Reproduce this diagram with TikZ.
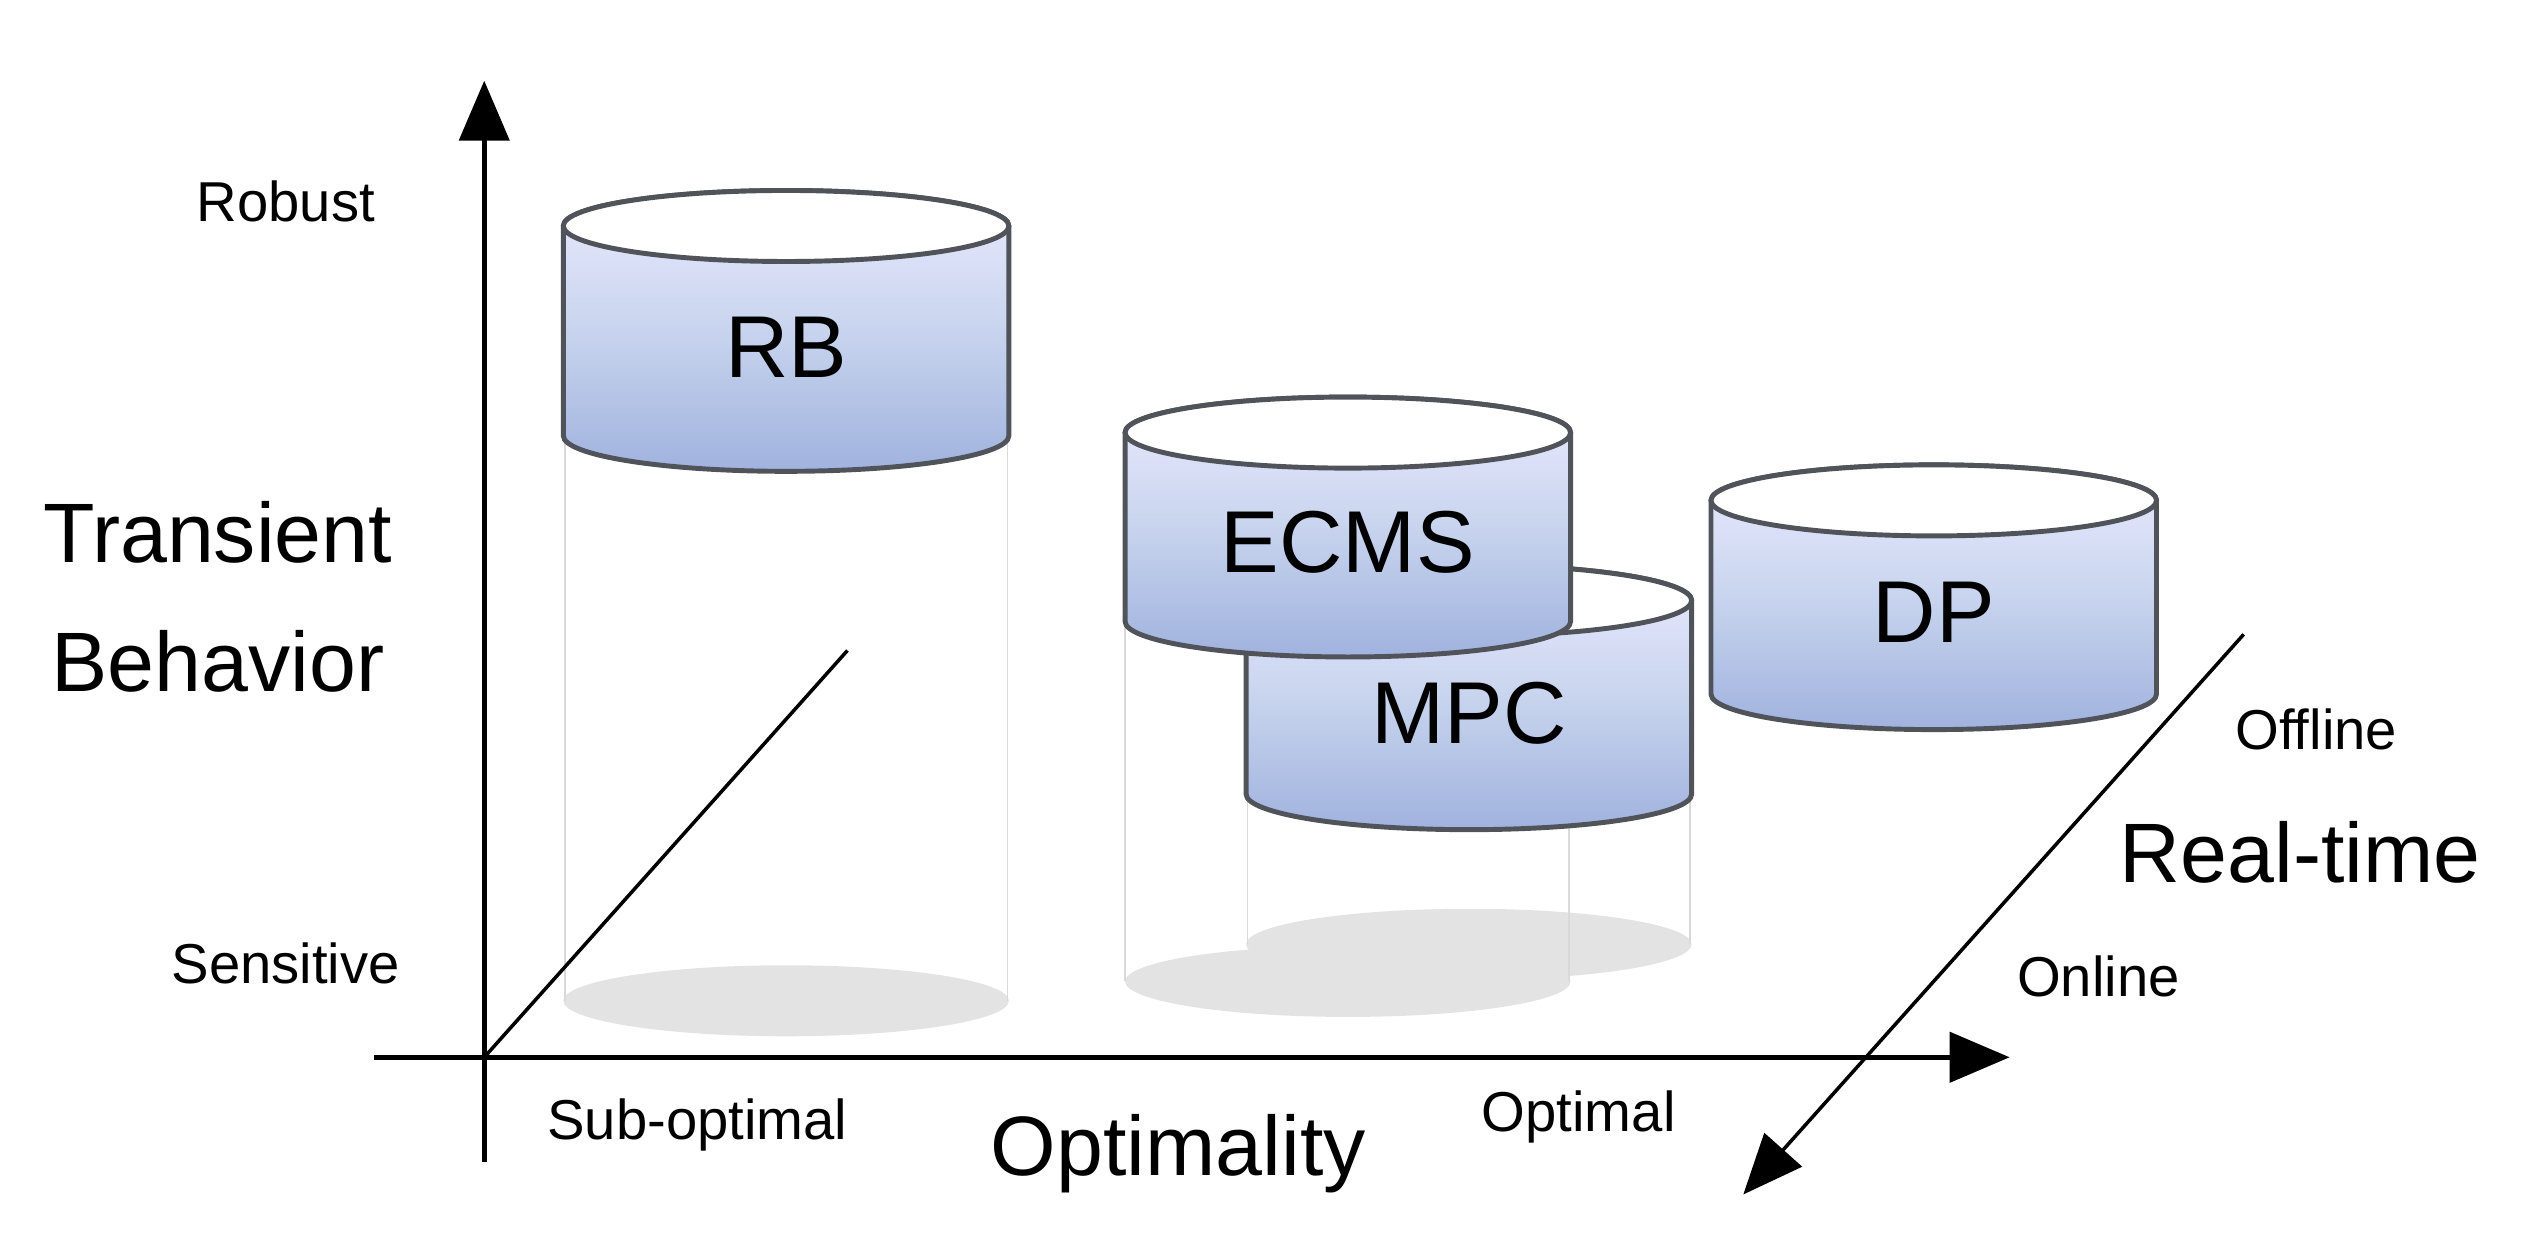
\documentclass[tikz,border=0pt]{standalone}
\usepackage{fontspec}
\setmainfont{Liberation Sans}
\usetikzlibrary{arrows.meta}
\begin{document}
\begin{tikzpicture}[x=0.01614cm,y=0.01614cm,
  axis/.style={line width=1.3pt,black},
  arr/.style={-{Triangle[length=0.6cm,width=0.5cm]}},
  cylbody/.style={top color=blue!8!white,bottom color={rgb,255:red,160;green,178;blue,222},middle color={rgb,255:red,200;green,212;blue,238},draw={rgb,255:red,80;green,84;blue,90},line width=1.4pt},
  cyltop/.style={fill=white,draw={rgb,255:red,80;green,84;blue,90},line width=1.4pt},
  ghost/.style={draw=black!15,line width=0.4pt},
  shadow/.style={fill=black!11},
  small/.style={font=\fontsize{16}{18}\selectfont},
  big/.style={font=\fontsize{24}{28}\selectfont},
  clab/.style={font=\fontsize{25}{28}\selectfont}]
\useasboundingbox (0,0) rectangle (1568,766);
\newcommand\mycyl[5]{%
  \shade[cylbody] ({#1-138},#2) -- ({#1-138},#3) arc[start angle=180,end angle=360,x radius=138,y radius=22] -- ({#1+138},#2) arc[start angle=0,end angle=180,x radius=138,y radius=22] -- cycle;
  \draw[cyltop] (#1,#2) ellipse[x radius=138,y radius=22];
  \node[clab] (#4) at (#1,{#3+(#2-#3)*0.42}) {#5};}
% shadows and ghost lines
\fill[shadow] (487,146) ellipse[x radius=138,y radius=22];
\fill[shadow] (910,181) ellipse[x radius=138,y radius=22];
\fill[shadow] (835,158) ellipse[x radius=138,y radius=22];
\draw[ghost] (350,496) -- (350,146) (624,496) -- (624,146);
\draw[ghost] (697,381) -- (697,158) (972,381) -- (972,158);
\draw[ghost] (773,274) -- (773,181) (1047,274) -- (1047,181);
% axes
\coordinate (o) at (300,111);
\coordinate (vb) at (300,46); \coordinate (vt) at (300,716);
\coordinate (hl) at (232,111); \coordinate (hr) at (1245,111);
\coordinate (dt) at (525,363);
\coordinate (rt) at (1390,373); \coordinate (rb) at (1080,26);
\draw[axis,arr] (vb) -- (vt);
\draw[axis,arr] (hl) -- (hr);
\draw[line width=1pt] (o) -- (dt);
\draw[line width=1pt,arr] (rt) -- (rb);
% cylinders
\mycyl{487}{626}{496}{rbn}{RB}
\mycyl{910}{394}{274}{mpc}{MPC}
\mycyl{835}{498}{381}{ecms}{ECMS}
\mycyl{1198}{456}{336}{dp}{DP}
% labels
\node[small] (robust) at (177,641) {Robust};
\node[small] (sens) at (177,169) {Sensitive};
\node[big] (trans) at (135,436) {Transient};
\node[big] (beh) at (135,356) {Behavior};
\node[small] (sub) at (432,69) {Sub-optimal};
\node[big] (opt) at (730,51) {Optimality};
\node[small] (optl) at (978,74) {Optimal};
\node[small] (off) at (1435,314) {Offline};
\node[big] (rtl) at (1425,238) {Real-time};
\node[small] (onl) at (1300,161) {Online};
\end{tikzpicture}
\end{document}
